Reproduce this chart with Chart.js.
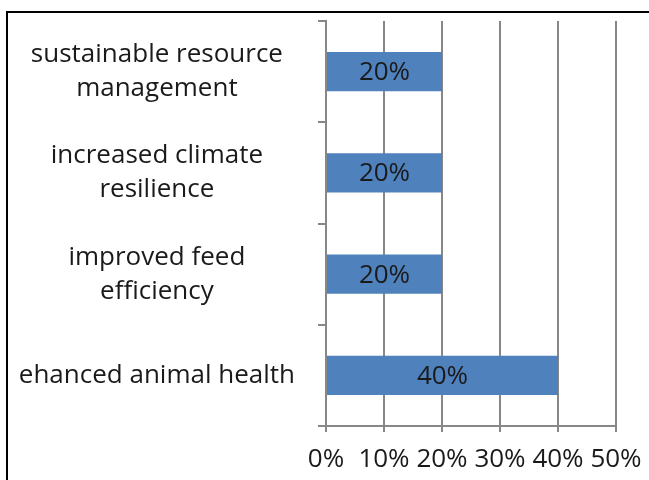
<!DOCTYPE html>
<html><head><meta charset="utf-8">
<script src="https://cdn.jsdelivr.net/npm/chart.js@4/dist/chart.umd.min.js"></script>
<style>
html,body{margin:0;padding:0;background:#fff;}
#wrap{position:relative;width:649px;height:480px;overflow:hidden;}
#frame{position:absolute;left:6px;top:11px;width:800px;height:800px;border-top:2px solid #000;border-left:2px solid #000;}
#c{position:absolute;left:0;top:0;}
</style></head>
<body>
<div id="wrap"><div id="frame"></div><canvas id="c" width="649" height="480"></canvas></div>
<script>
// ---- data ----
const categories = [
  ["sustainable resource", "management"],
  ["increased climate", "resilience"],
  ["improved feed", "efficiency"],
  "ehanced animal health"
];
const values = [20, 20, 20, 40];
const xMin = 0, xMax = 50, xStep = 10;
const pctSuffix = "%";

const FONT = "'Open Sans', sans-serif";
const TEXT = "#1a1a1a";
const GRID = "#878787";

const barLabels = {
  id: "barLabels",
  afterDatasetsDraw(chart) {
    const ctx = chart.ctx;
    const meta = chart.getDatasetMeta(0);
    ctx.save();
    ctx.font = "26px " + FONT;
    ctx.fillStyle = TEXT;
    ctx.textAlign = "center";
    ctx.textBaseline = "middle";
    meta.data.forEach((bar, i) => {
      ctx.fillText(values[i] + pctSuffix, (bar.x + bar.base) / 2, bar.y + 1);
    });
    ctx.restore();
  }
};

new Chart(document.getElementById("c"), {
  type: "bar",
  data: {
    labels: categories,
    datasets: [{
      data: values,
      backgroundColor: "#4F81BD",
      borderWidth: 0,
      barPercentage: 1,
      categoryPercentage: 0.39
    }]
  },
  options: {
    indexAxis: "y",
    responsive: false,
    animation: false,
    devicePixelRatio: 1,
    layout: { padding: { top: 21, right: 33, left: 0, bottom: 0 } },
    plugins: { legend: { display: false }, tooltip: { enabled: false } },
    scales: {
      y: {
        grid: { drawOnChartArea: false, drawTicks: true, tickLength: 8, offset: true, color: GRID, lineWidth: 2 },
        border: { color: GRID, width: 2 },
        ticks: {
          crossAlign: "center",
          padding: 23,
          color: TEXT,
          font: { family: FONT, size: 26, lineHeight: 1.31 }
        },
        afterFit(scale) { scale.width = 326; scale.paddingTop = 0; scale.paddingBottom = 0; }
      },
      x: {
        min: xMin, max: xMax,
        grid: { color: GRID, lineWidth: 2, tickLength: 6, drawTicks: true },
        border: { color: GRID, width: 2 },
        ticks: {
          stepSize: xStep,
          padding: 12,
          color: TEXT,
          font: { family: FONT, size: 26 },
          callback: (v) => v + pctSuffix
        },
        afterFit(scale) { scale.height = 54; scale.paddingLeft = 0; scale.paddingRight = 0; }
      }
    }
  },
  plugins: [barLabels]
});
</script>
</body></html>
